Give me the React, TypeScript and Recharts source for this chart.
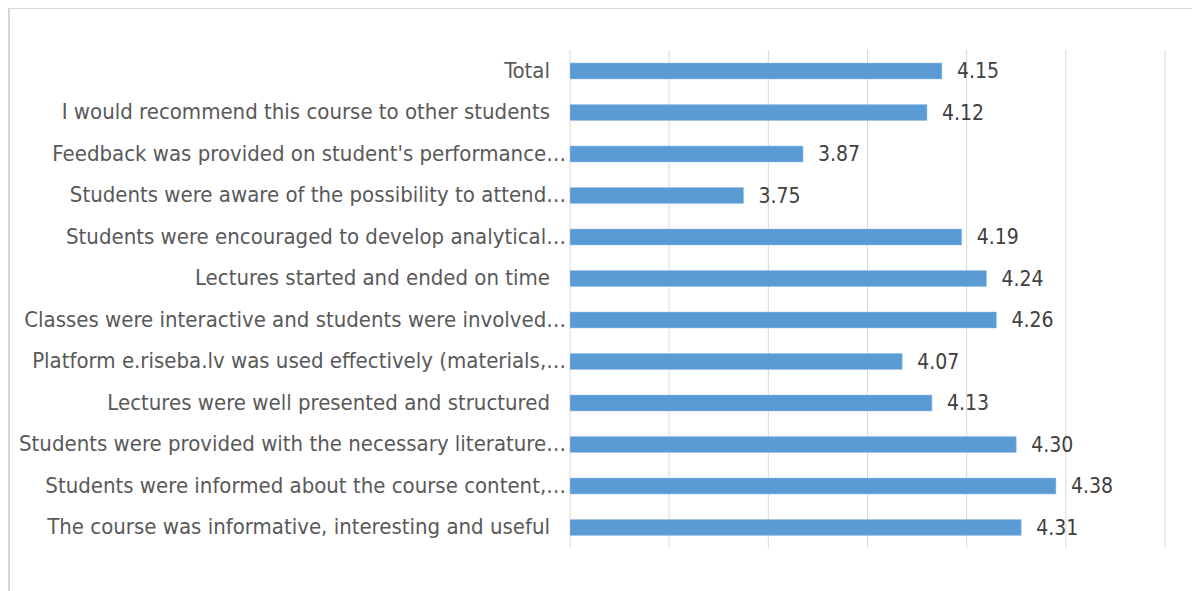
import React from "react";
import { BarChart, Bar, XAxis, YAxis, CartesianGrid, LabelList } from "recharts";

const categories = [
  "Total",
  "I would recommend this course to other students",
  "Feedback was provided on student's performance…",
  "Students were aware of the possibility to attend…",
  "Students were encouraged to develop analytical…",
  "Lectures started and ended on time",
  "Classes were interactive and students were involved…",
  "Platform e.riseba.lv was used effectively (materials,…",
  "Lectures were well presented and structured",
  "Students were provided with the necessary literature…",
  "Students were informed about the course content,…",
  "The course was informative, interesting and useful",
];
const values = [4.15, 4.12, 3.87, 3.75, 4.19, 4.24, 4.26, 4.07, 4.13, 4.3, 4.38, 4.31];
const xTicks = [3.4, 3.6, 3.8, 4.0, 4.2, 4.4, 4.6];

const data = categories.map((name, i) => ({ name, value: values[i] }));

const FONT = "'DejaVu Sans Condensed', 'Liberation Sans Narrow', sans-serif";

const CatTick = (props: any) => {
  const { x, y, payload } = props;
  const label: string = payload.value;
  const truncated = label.endsWith("…");
  return (
    <text
      x={x + (truncated ? -4 : -20)}
      y={y}
      dy={7}
      textAnchor="end"
      fill="#595959"
      fontSize={22}
      fontFamily={FONT}
    >
      {label}
    </text>
  );
};

export default function App() {
  return (
    <div style={{ position: "relative", width: 1192, height: 583 }}>
      <div style={{ position: "absolute", left: 0, top: 0 }}>
        <BarChart
          width={1192}
          height={583}
          data={data}
          layout="vertical"
          margin={{ top: 42, right: 35, bottom: 43, left: 0 }}
          barCategoryGap={0}
        >
          <CartesianGrid horizontal={false} vertical={true} stroke="#d9d9d9" strokeWidth={1} />
          <XAxis type="number" domain={[3.4, 4.6]} ticks={xTicks} hide allowDataOverflow />
          <YAxis
            type="category"
            dataKey="name"
            width={562}
            axisLine={false}
            tickLine={false}
            tickSize={0}
            tickMargin={0}
            interval={0}
            tick={<CatTick />}
          />
          <Bar dataKey="value" fill="#5B9BD5" stroke="#9dc3e6" strokeWidth={0.5} barSize={16} isAnimationActive={false}>
            <LabelList
              dataKey="value"
              position="right"
              offset={15}
              formatter={(v: any) => Number(v).toFixed(2)}
              fill="#404040"
              fontSize={21}
              fontFamily={FONT}
            />
          </Bar>
        </BarChart>
      </div>
      <div
        style={{
          position: "absolute",
          left: 0,
          top: 0,
          width: 2,
          height: 583,
          borderLeft: "2px solid #d6d6d6",
          boxSizing: "border-box",
          pointerEvents: "none",
        }}
      />
      <div
        style={{
          position: "absolute",
          left: 0,
          top: 0,
          width: 1192,
          height: 1,
          background: "#d9d9d9",
          pointerEvents: "none",
        }}
      />
    </div>
  );
}
